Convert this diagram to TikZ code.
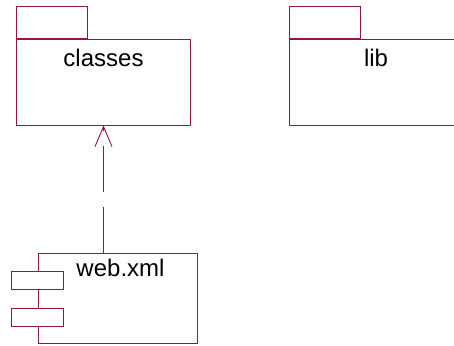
\documentclass[tikz,border=0pt]{standalone}
\usepackage{fontspec}
\setmainfont{Liberation Sans}
\usetikzlibrary{positioning,arrows.meta}
\definecolor{umlred}{RGB}{150,20,70}
\tikzset{
  pkgbody/.style = {rectangle, draw=umlred, line width=0.9pt, fill=white,
                    minimum width=174pt, minimum height=86pt, inner sep=0pt},
  pkgtab/.style  = {rectangle, draw=umlred, line width=0.9pt, fill=white,
                    minimum width=71pt, minimum height=32pt, inner sep=0pt},
  compbody/.style= {rectangle, draw=umlred, line width=0.9pt, fill=white,
                    minimum width=159pt, minimum height=90pt, inner sep=0pt},
  compport/.style= {rectangle, draw=umlred, line width=0.9pt, fill=white,
                    minimum width=52pt, minimum height=18pt, inner sep=0pt},
  umlname/.style = {font=\fontsize{24}{28}\selectfont, inner sep=0pt, anchor=north},
  dep/.style     = {-{Straight Barb[length=20pt,width=17pt,line width=0.9pt]},
                    line width=0.9pt, umlred, dash pattern=on 46pt off 15pt},
}

\begin{document}
\begin{tikzpicture}[x=1pt,y=-1pt]
  \useasboundingbox (0,0) rectangle (454,345);
  \clip (0,0) rectangle (454,345);
  % packages
  \node[pkgbody] (classes) at (103.5,82) {};
  \node[pkgtab,anchor=south west] (classestab) at (classes.north west) {};
  \node[umlname,below=10pt of classes.north] (classesname) {classes};
  \node[pkgbody] (lib) at (376,82) {};
  \node[pkgtab,anchor=south west] (libtab) at (lib.north west) {};
  \node[umlname,below=10pt of lib.north] (libname) {lib};
  % component
  \node[compbody] (web) at (117.5,298) {};
  \node[compport] (webport1) at (37,280) {};
  \node[compport] (webport2) at (37,317) {};
  \node[umlname,below=6pt of web.north,xshift=3pt] (webname) {web.xml};

  \draw[dep] (classes.south |- web.north) -- (classes.south);
\end{tikzpicture}
\end{document}
